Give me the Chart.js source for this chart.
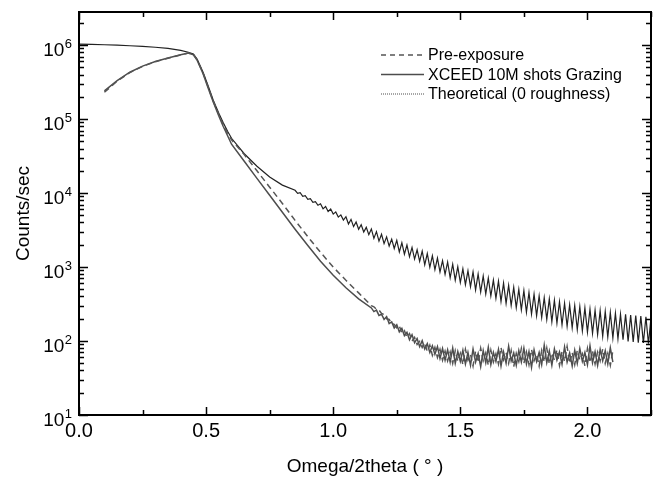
<!DOCTYPE html>
<html>
<head>
<meta charset="utf-8">
<script src="https://cdn.jsdelivr.net/npm/chart.js@4.4.0/dist/chart.umd.min.js"></script>
<style>
  html, body { margin: 0; padding: 0; background: #fff; }
  canvas { display: block; }
</style>
</head>
<body>
<canvas id="myChart" width="656" height="481"></canvas>
<script>
// tick labels
var xTickLabels = [0.0, 0.5, 1.0, 1.5, 2.0];
var yTickLabels = [10, 100, 1000, 10000, 100000, 1000000];

// measured scans (pre-exposure + XCEED share the same angle grid)
var measuredAngle = [
  0.1, 0.15, 0.2, 0.25, 0.3, 0.35, 0.4, 0.43, 0.45, 0.465, 0.488, 0.51, 0.528, 0.55, 0.567, 0.585,
  0.6, 0.65, 0.7, 0.75, 0.8, 0.85, 0.9, 0.95, 1.0, 1.05, 1.1,
  1.15, 1.16, 1.17, 1.18, 1.19, 1.20, 1.21, 1.22, 1.23, 1.24,
  1.25, 1.26, 1.27, 1.28, 1.29, 1.30, 1.31, 1.32, 1.33, 1.34,
  1.35, 1.36, 1.37, 1.38, 1.39, 1.40, 1.41, 1.42, 1.43, 1.44,
  1.45, 1.46, 1.47, 1.48, 1.49, 1.50, 1.51, 1.52, 1.53, 1.54,
  1.55, 1.56, 1.57, 1.58, 1.59, 1.60, 1.61, 1.62, 1.63, 1.64,
  1.65, 1.66, 1.67, 1.68, 1.69, 1.70, 1.71, 1.72, 1.73, 1.74,
  1.75, 1.76, 1.77, 1.78, 1.79, 1.80, 1.81, 1.82, 1.83, 1.84,
  1.85, 1.86, 1.87, 1.88, 1.89, 1.90, 1.91, 1.92, 1.93, 1.94,
  1.95, 1.96, 1.97, 1.98, 1.99, 2.00, 2.01, 2.02, 2.03, 2.04,
  2.05, 2.06, 2.07, 2.08, 2.09, 2.10
];

var preCounts = [
  230000, 325000, 425000, 515000, 595000, 665000, 735000, 780000, 750000, 630000, 420000, 260000, 175000, 115000, 84000, 64000,
  52500, 33100, 20000, 12000, 7240, 4270, 2570, 1580, 1000, 661, 447,
  300, 290, 268, 262, 236, 228, 200, 196, 172, 168,
  150, 160, 128, 138, 112, 126, 100, 112, 90, 99,
  82, 95, 72, 88, 64, 82, 60, 77, 55, 73,
  54, 71, 50, 74, 53, 68, 48, 77, 55, 66,
  46, 73, 51, 80, 54, 69, 47, 75, 52, 67,
  49, 82, 56, 70, 50, 74, 45, 68, 53, 79,
  50, 71, 48, 77, 54, 66, 46, 74, 52, 80,
  49, 69, 55, 76, 47, 72, 53, 84, 50, 70,
  48, 75, 55, 67, 46, 79, 51, 73, 49, 71,
  54, 78, 50, 68, 47, 74
];

var xceedCounts = [
  240000, 330000, 430000, 520000, 600000, 670000, 740000, 780000, 740000, 620000, 410000, 250000, 170000, 110000, 80000, 59000,
  45700, 26900, 15800, 9330, 5500, 3240, 1950, 1200, 776, 525, 372,
  280, 250, 262, 222, 230, 196, 214, 172, 181, 150,
  166, 133, 148, 118, 131, 104, 122, 95, 108, 84,
  101, 78, 92, 70, 86, 66, 84, 58, 79, 55,
  76, 52, 80, 50, 72, 53, 75, 49, 70, 47,
  78, 52, 68, 45, 74, 51, 82, 48, 70, 53,
  77, 46, 71, 50, 85, 54, 69, 47, 74, 52,
  80, 49, 72, 44, 76, 53, 70, 48, 88, 51,
  73, 47, 78, 55, 71, 49, 83, 52, 69, 46,
  75, 50, 79, 53, 70, 48, 86, 51, 72, 47,
  77, 54, 74, 49, 81, 52
];

// theoretical curve (0 roughness), fringes read as peak / trough pairs
var theoAngle = [
  0, 0.05, 0.1, 0.15, 0.2, 0.25, 0.3, 0.35, 0.4, 0.43, 0.45, 0.465, 0.488, 0.51, 0.528, 0.55, 0.567, 0.585,
  0.6, 0.65, 0.7, 0.75, 0.8,
  0.85, 0.86, 0.87, 0.88, 0.89, 0.90, 0.91, 0.92, 0.93, 0.94,
  0.95, 0.96, 0.97, 0.98, 0.99, 1.00, 1.01, 1.02, 1.03, 1.04,
  1.05, 1.06, 1.07, 1.08, 1.09, 1.10, 1.11, 1.12, 1.13, 1.14,
  1.15, 1.16, 1.17, 1.18, 1.19, 1.20, 1.21, 1.22, 1.23, 1.24,
  1.25, 1.26, 1.27, 1.28, 1.29, 1.30, 1.31, 1.32, 1.33, 1.34,
  1.35, 1.36, 1.37, 1.38, 1.39, 1.40, 1.41, 1.42, 1.43, 1.44,
  1.45, 1.46, 1.47, 1.48, 1.49, 1.50, 1.51, 1.52, 1.53, 1.54,
  1.55, 1.56, 1.57, 1.58, 1.59, 1.60, 1.61, 1.62, 1.63, 1.64,
  1.65, 1.66, 1.67, 1.68, 1.69, 1.70, 1.71, 1.72, 1.73, 1.74,
  1.75, 1.76, 1.77, 1.78, 1.79, 1.80, 1.81, 1.82, 1.83, 1.84,
  1.85, 1.86, 1.87, 1.88, 1.89, 1.90, 1.91, 1.92, 1.93, 1.94,
  1.95, 1.96, 1.97, 1.98, 1.99, 2.00, 2.01, 2.02, 2.03, 2.04,
  2.05, 2.06, 2.07, 2.08, 2.09, 2.10, 2.11, 2.12, 2.13, 2.14,
  2.15, 2.16, 2.17, 2.18, 2.19, 2.20, 2.21, 2.22, 2.23, 2.24,
  2.25
];

var theoCounts = [
  1030000, 1020000, 1010000, 1000000, 980000, 960000, 935000, 900000, 850000, 800000, 760000, 640000, 430000, 270000, 180000, 120000, 90000, 68000,
  55000, 34000, 23000, 16500, 12800,
  10900, 9890, 10120, 9020, 9230, 8220, 8410, 7500, 7670, 6840,
  7160, 6120, 6590, 5640, 6070, 5190, 5560, 4730, 5070, 4320,
  4790, 3820, 4410, 3520, 4060, 3240, 3730, 2980, 3440, 2740,
  3270, 2440, 3010, 2240, 2770, 2070, 2560, 1920, 2380, 1780,
  2290, 1600, 2130, 1490, 1980, 1380, 1840, 1280, 1710, 1190,
  1640, 1070, 1520, 993, 1420, 923, 1320, 857, 1220, 796,
  1170, 714, 1090, 664, 1010, 617, 946, 578, 887, 542,
  861, 491, 807, 460, 757, 432, 710, 405, 665, 379,
  646, 344, 605, 322, 568, 302, 532, 283, 499, 265,
  479, 244, 453, 231, 429, 219, 406, 207, 384, 196,
  372, 182, 355, 174, 339, 166, 324, 158, 309, 151,
  302, 142, 291, 137, 281, 132, 270, 127, 261, 122,
  257, 116, 250, 113, 243, 110, 237, 107, 230, 104,
  229, 99, 225, 97, 221, 95, 217, 94, 213, 92,
  209
];

function points(xs, ys) {
  return xs.map(function (x, i) { return { x: x, y: ys[i] }; });
}

var FONT = '"Liberation Sans", Arial, Helvetica, sans-serif';
Chart.defaults.font.family = FONT;
Chart.defaults.color = '#000';

// frame, inward ticks on all four sides, 10^n labels, legend inside the plot
var framePlugin = {
  id: 'frame',
  afterDatasetsDraw: function (chart) {
    var ctx = chart.ctx, a = chart.chartArea;
    var xs = chart.scales.x, ys = chart.scales.y;
    ctx.save();
    ctx.strokeStyle = '#000';
    ctx.lineWidth = 1.5;
    ctx.beginPath();
    // x ticks every 0.25, labelled ones longer
    for (var v = 0; v <= xs.max + 1e-9; v += 0.25) {
      var px = Math.round(xs.getPixelForValue(v)) + 0.5;
      var len = (Math.abs(v * 2 - Math.round(v * 2)) < 1e-6) ? 8 : 5;
      ctx.moveTo(px, a.bottom); ctx.lineTo(px, a.bottom - len);
      ctx.moveTo(px, a.top); ctx.lineTo(px, a.top + len);
    }
    // y ticks: decades long, 2..9 short
    for (var d = 10; d <= ys.max; d *= 10) {
      for (var m = 1; m <= 9; m++) {
        var val = d * m;
        if (val > ys.max) break;
        var py = Math.round(ys.getPixelForValue(val)) + 0.5;
        var l = m === 1 ? 9 : 5;
        ctx.moveTo(a.left, py); ctx.lineTo(a.left + l, py);
        ctx.moveTo(a.right, py); ctx.lineTo(a.right - l, py);
      }
    }
    ctx.stroke();
    ctx.lineWidth = 2;
    ctx.strokeRect(a.left, a.top, a.right - a.left, a.bottom - a.top);

    // y labels as 10 with a raised exponent
    ctx.fillStyle = '#000';
    ctx.textBaseline = 'alphabetic';
    ctx.textAlign = 'right';
    yTickLabels.forEach(function (t) {
      var ty = ys.getPixelForValue(t);
      var exp = String(Math.round(Math.log10(t)));
      var right = a.left - 7;
      ctx.font = '13px ' + FONT;
      var ew = ctx.measureText(exp).width;
      ctx.fillText(exp, right, ty + 3);
      ctx.font = '19px ' + FONT;
      ctx.fillText('10', right - ew - 0.5, ty + 11);
    });

    // legend
    chart.data.datasets.forEach(function (ds, i) {
      var y = 55 + i * 19.5;
      ctx.strokeStyle = ds.legendColor || ds.borderColor;
      ctx.lineWidth = 1.3;
      ctx.setLineDash(ds.legendDash || []);
      ctx.beginPath();
      ctx.moveTo(381, y); ctx.lineTo(424, y);
      ctx.stroke();
      ctx.setLineDash([]);
      ctx.fillStyle = '#000';
      ctx.font = '16px ' + FONT;
      ctx.textBaseline = 'middle';
      ctx.textAlign = 'left';
      ctx.fillText(ds.label, 428, y + 1);
    });
    ctx.restore();
  }
};

var ctx = document.getElementById('myChart').getContext('2d');

var myChart = new Chart(ctx, {
  type: 'line',
  data: {
    datasets: [{
      label: 'Pre-exposure',
      data: points(measuredAngle, preCounts),
      borderColor: '#555',
      borderWidth: 1.5,
      borderDash: [6, 4],
      legendDash: [5, 4]
    }, {
      label: 'XCEED 10M shots Grazing',
      data: points(measuredAngle, xceedCounts),
      borderColor: '#4d4d4d',
      borderWidth: 1.5
    }, {
      label: 'Theoretical (0 roughness)',
      data: points(theoAngle, theoCounts),
      borderColor: '#222',
      borderWidth: 1.2,
      legendColor: '#777',
      legendDash: [1, 1]
    }]
  },
  options: {
    responsive: false,
    animation: false,
    devicePixelRatio: 1,
    elements: {
      point: { radius: 0 },
      line: { tension: 0, fill: false }
    },
    layout: { padding: { top: 12, right: 5, left: 0, bottom: 0 } },
    plugins: {
      legend: { display: false },
      tooltip: { enabled: false }
    },
    scales: {
      x: {
        type: 'linear',
        min: 0,
        max: 2.25,
        grid: { display: false, drawTicks: false },
        border: { display: false },
        afterBuildTicks: function (scale) {
          scale.ticks = xTickLabels.map(function (v) { return { value: v }; });
        },
        afterFit: function (scale) {
          scale.height = 66;
          scale.paddingLeft = 0;
          scale.paddingRight = 0;
        },
        ticks: {
          padding: 4,
          maxRotation: 0,
          font: { size: 20 },
          color: '#000',
          callback: function (v) { return Number(v).toFixed(1); }
        },
        title: {
          display: true,
          text: 'Omega/2theta ( \u00B0 )',
          font: { size: 19 },
          color: '#000',
          padding: { top: 0, bottom: 3 }
        }
      },
      y: {
        type: 'logarithmic',
        min: 10,
        max: 2800000,
        grid: { display: false, drawTicks: false },
        border: { display: false },
        afterBuildTicks: function (scale) {
          scale.ticks = yTickLabels.map(function (v) { return { value: v }; });
        },
        afterFit: function (scale) {
          scale.width = 79;
          scale.paddingTop = 0;
          scale.paddingBottom = 0;
        },
        ticks: {
          display: false
        },
        title: {
          display: true,
          text: 'Counts/sec',
          font: { size: 19 },
          color: '#000',
          padding: { top: 12, bottom: 0 }
        }
      }
    }
  },
  plugins: [framePlugin]
});
</script>
</body>
</html>
